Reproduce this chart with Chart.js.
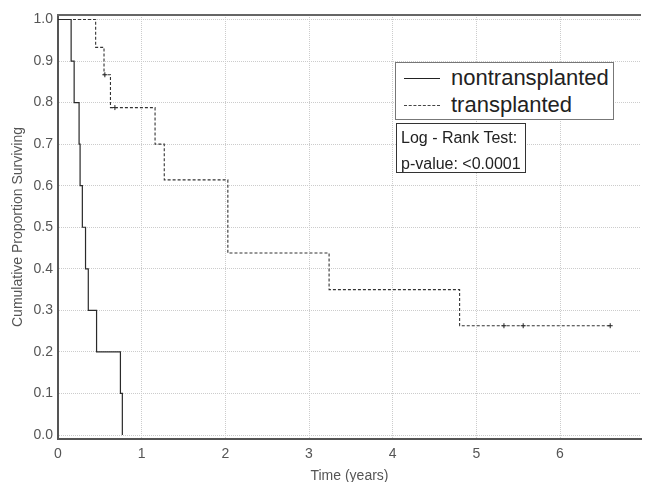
<!DOCTYPE html>
<html>
<head>
<meta charset="utf-8">
<script src="https://cdn.jsdelivr.net/npm/chart.js@4/dist/chart.umd.min.js"></script>
<style>
  html, body { margin: 0; padding: 0; background: #fff; }
  #wrap { position: relative; width: 646px; height: 482px; overflow: hidden; font-family: "Liberation Sans", Arial, sans-serif; }
  #legendBox { position: absolute; left: 395px; top: 62px; width: 217px; height: 56px; border: 1px solid #777; background: #fff; }
  .lg-row { position: absolute; left: 0; width: 217px; height: 26px; }
  .lg-line { position: absolute; left: 8px; width: 36px; top: 13px; }
  .lg-text { position: absolute; left: 55px; top: 0; font-size: 22px; line-height: 26px; color: #222; }
  #statBox { position: absolute; left: 396px; top: 123px; width: 128px; height: 48px; border: 1px solid #333; background: #fff; }
  .st-text { position: absolute; left: 4px; font-size: 16px; line-height: 20px; color: #222; white-space: nowrap; }
</style>
</head>
<body>
<div id="wrap">
  <canvas id="km" width="646" height="485"></canvas>
  <div id="legendBox">
    <div class="lg-row" style="top:2px">
      <div class="lg-line" style="border-top:1px solid #222"></div>
      <div class="lg-text">nontransplanted</div>
    </div>
    <div class="lg-row" style="top:29px">
      <div class="lg-line" style="border-top:1px dashed #444"></div>
      <div class="lg-text">transplanted</div>
    </div>
  </div>
  <div id="statBox">
    <div class="st-text" style="top:4px">Log - Rank Test:</div>
    <div class="st-text" style="top:30px">p-value: &lt;0.0001</div>
  </div>
</div>
<script>
/* ---------- data ---------- */
const nonTimes = [0, 0.157, 0.193, 0.252, 0.264, 0.291, 0.329, 0.362, 0.461, 0.746, 0.769];
const nonSurv  = [1.0, 0.9, 0.8, 0.7, 0.6, 0.5, 0.4, 0.3, 0.2, 0.1, 0.0];

const trTimes = [0, 0.45, 0.55, 0.627, 1.16, 1.27, 2.03, 3.24, 4.80, 6.60];
const trSurv  = [1.0, 0.933, 0.867, 0.788, 0.700, 0.614, 0.438, 0.350, 0.263, 0.263];

// censored observations (transplanted group)
const trCensorTimes = [0.56, 0.68, 5.33, 5.56, 6.60];

const xTicks = [0, 1, 2, 3, 4, 5, 6];
const yTicks = [0, 0.1, 0.2, 0.3, 0.4, 0.5, 0.6, 0.7, 0.8, 0.9, 1.0];

/* ---------- helpers ---------- */
function toPoints(xs, ys) {
  return xs.map((x, i) => ({ x: x, y: ys[i] }));
}
// survival value of the step curve at time t
function survAt(t, times, surv) {
  let s = surv[0];
  times.forEach((tt, i) => { if (tt <= t) s = surv[i]; });
  return s;
}

const censorPts = trCensorTimes.map(t => ({ x: t, y: survAt(t, trTimes, trSurv) }));

const tickFont = { family: '"Liberation Sans", Arial, sans-serif', size: 14 };

const topFrame = {
  id: 'topFrame',
  afterDraw(chart) {
    const { ctx, chartArea } = chart;
    ctx.save();
    ctx.strokeStyle = '#666';
    ctx.lineWidth = 2;
    ctx.beginPath();
    ctx.moveTo(chartArea.left - 1, chartArea.top);
    ctx.lineTo(chartArea.right, chartArea.top);
    ctx.stroke();
    ctx.restore();
  }
};

new Chart(document.getElementById('km'), {
  type: 'line',
  data: {
    datasets: [
      {
        label: 'nontransplanted',
        data: toPoints(nonTimes, nonSurv),
        stepped: 'before',
        borderColor: '#2a2a2a',
        borderWidth: 1.2,
        pointRadius: 0,
        fill: false
      },
      {
        label: 'transplanted',
        data: toPoints(trTimes, trSurv),
        stepped: 'before',
        borderColor: '#333',
        borderWidth: 1.1,
        borderDash: [3, 2],
        pointRadius: 0,
        fill: false
      },
      {
        label: 'censored',
        data: censorPts,
        showLine: false,
        pointStyle: 'cross',
        pointRadius: 2.5,
        pointBorderWidth: 1,
        pointBorderColor: '#222'
      }
    ]
  },
  options: {
    responsive: false,
    devicePixelRatio: 1,
    animation: false,
    layout: { padding: { top: 15, right: 0, bottom: 0, left: 0 } },
    plugins: { legend: { display: false }, tooltip: { enabled: false } },
    scales: {
      x: {
        type: 'linear',
        min: 0,
        max: 6.968,
        afterBuildTicks: s => { s.ticks = xTicks.map(v => ({ value: v })); },
        afterFit: s => { s.height = 46; },
        ticks: { font: tickFont, color: '#555', padding: 7, callback: v => String(v) },
        grid: { color: '#cccccc', drawTicks: false, lineWidth: 1 },
        border: { color: '#555', width: 2, dash: [1, 1] },
        title: { display: true, text: 'Time (years)', color: '#555', font: tickFont, padding: { top: 0, bottom: 0 } }
      },
      y: {
        type: 'linear',
        min: -0.0096,
        max: 1.0108,
        afterBuildTicks: s => { s.ticks = yTicks.map(v => ({ value: v })); },
        afterFit: s => { s.width = 58; },
        ticks: { font: tickFont, color: '#555', padding: 5, callback: v => v.toFixed(1) },
        grid: { color: '#cccccc', drawTicks: false, lineWidth: 1 },
        border: { color: '#555', width: 2, dash: [1, 1] },
        title: { display: true, text: 'Cumulative Proportion Surviving', color: '#555', font: tickFont, padding: { top: 10, bottom: 0 } }
      }
    }
  },
  plugins: [topFrame]
});
</script>
</body>
</html>
